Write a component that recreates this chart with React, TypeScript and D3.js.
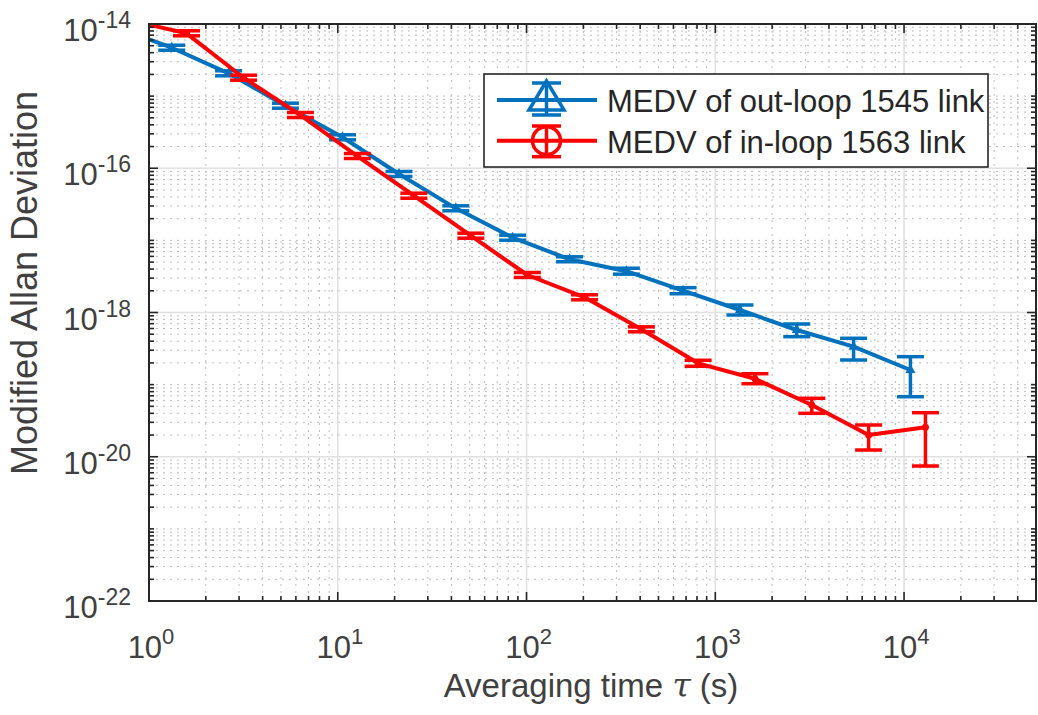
import React from "react";
import * as d3 from "d3";

// ---- data ----
const blueTau = [0.66, 1.32, 2.64, 5.28, 10.6, 21.1, 42.2, 84.4, 169, 338, 675, 1351, 2702, 5403, 10806];
const blueVal = [9.17e-15, 4.69e-15, 2.07e-15, 7.37e-16, 2.69e-16, 8.32e-17, 2.78e-17, 1.089e-17, 5.47e-18, 3.74e-18, 2.005e-18, 1.083e-18, 5.72e-19, 3.36e-19, 1.595e-19];
const blueHi = [9.9e-15, 5.08e-15, 2.245e-15, 7.98e-16, 2.91e-16, 9.02e-17, 3.015e-17, 1.18e-17, 5.92e-18, 4.11e-18, 2.21e-18, 1.27e-18, 6.93e-19, 4.39e-19, 2.44e-19];
const blueLo = [8.5e-15, 4.33e-15, 1.913e-15, 6.8e-16, 2.48e-16, 7.69e-17, 2.57e-17, 1.005e-17, 5.05e-18, 3.4e-18, 1.82e-18, 9.23e-19, 4.62e-19, 2.195e-19, 6.8e-20];

const redTau = [0.79, 1.58, 3.17, 6.34, 12.7, 25.3, 50.7, 101, 203, 406, 811, 1622, 3245, 6490, 12980];
const redVal = [1.12e-14, 7.43e-15, 1.8e-15, 5.47e-16, 1.478e-16, 4.16e-17, 1.161e-17, 3.31e-18, 1.624e-18, 5.85e-19, 1.975e-19, 1.208e-19, 5.22e-20, 2.0e-20, 2.56e-20];
const redHi = [1.2e-14, 8.05e-15, 1.95e-15, 5.93e-16, 1.6e-16, 4.51e-17, 1.258e-17, 3.585e-18, 1.76e-18, 6.33e-19, 2.175e-19, 1.417e-19, 6.46e-20, 2.755e-20, 4.08e-20];
const redLo = [1.04e-14, 6.86e-15, 1.663e-15, 5.05e-16, 1.365e-16, 3.84e-17, 1.072e-17, 3.06e-18, 1.5e-18, 5.4e-19, 1.795e-19, 1.03e-19, 4.0e-20, 1.24e-20, 7.44e-21];

const xMajor = [1, 10, 100, 1000, 10000];
const xExp = ["0", "1", "2", "3", "4"];
const yMajor = [1e-14, 1e-16, 1e-18, 1e-20, 1e-22];
const yExp = ["-14", "-16", "-18", "-20", "-22"];

const legendLabels = ["MEDV of out-loop 1545 link", "MEDV of in-loop 1563 link"];
const BLUE = "#0072BD";
const RED = "#FF0000";

const L = 149, R = 1036, T = 24, B = 601;

export default function App() {
  const x = d3.scaleLog().domain([1, 5e4]).range([L, R]);
  const y = d3.scaleLog().domain([1e-22, 1e-14]).range([B, T]);

  const xMinor: number[] = [];
  for (let n = 0; n <= 4; n++) for (let k = 2; k <= 9; k++) { const v = k * Math.pow(10, n); if (v <= 5e4) xMinor.push(v); }
  const yMinor: number[] = [];
  for (let n = -22; n <= -15; n++) for (let k = 1; k <= 9; k++) {
    if (k === 1 && n % 2 === 0) continue;
    yMinor.push(k * Math.pow(10, n));
  }

  const mkPath = (taus: number[], vals: number[]) =>
    d3.line<number>().x((d, i) => x(taus[i])).y((d) => y(d))(vals) || "";

  const cap = 13.5;
  const series = [
    { tau: blueTau, val: blueVal, hi: blueHi, lo: blueLo, color: BLUE, marker: "tri" },
    { tau: redTau, val: redVal, hi: redHi, lo: redLo, color: RED, marker: "circ" },
  ];
  const font = "'Liberation Sans', Arial, Helvetica, sans-serif";
  const tickColor = "#262626";

  return (
    <svg width={1038} height={715} style={{ position: "absolute", left: 0, top: 0, display: "block", background: "#fff" }}>
      <defs>
        <clipPath id="plotclip"><rect x={L} y={T} width={R - L} height={B - T} /></clipPath>
      </defs>
      <rect x={0} y={0} width={1038} height={715} fill="#fff" />
      {/* minor grid */}
      <g stroke="#bdbdbd" strokeWidth={1} strokeDasharray="2,5">
        {xMinor.map((v, i) => <line key={"gx" + i} x1={x(v)} x2={x(v)} y1={T} y2={B} />)}
        {yMinor.map((v, i) => <line key={"gy" + i} x1={L} x2={R} y1={y(v)} y2={y(v)} />)}
      </g>
      {/* major grid */}
      <g stroke="#e0e0e0" strokeWidth={1.6}>
        {xMajor.map((v, i) => <line key={"Gx" + i} x1={x(v)} x2={x(v)} y1={T} y2={B} />)}
        {yMajor.map((v, i) => <line key={"Gy" + i} x1={L} x2={R} y1={y(v)} y2={y(v)} />)}
      </g>
      {/* series */}
      <g clipPath="url(#plotclip)">
        {series.map((s, si) => (
          <g key={"s" + si} stroke={s.color} fill={s.color}>
            {s.tau.map((t, i) => {
              const cx = x(t);
              return (
                <g key={"e" + i} strokeWidth={3.5}>
                  <line x1={cx} x2={cx} y1={y(s.hi[i])} y2={y(s.lo[i])} />
                  <line x1={cx - cap} x2={cx + cap} y1={y(s.hi[i])} y2={y(s.hi[i])} />
                  <line x1={cx - cap} x2={cx + cap} y1={y(s.lo[i])} y2={y(s.lo[i])} />
                </g>
              );
            })}
            <path d={mkPath(s.tau, s.val)} fill="none" strokeWidth={4} strokeLinejoin="round" />
            {s.tau.map((t, i) => {
              const cx = x(t), cy = y(s.val[i]);
              return s.marker === "tri" ? (
                <path key={"m" + i} d={`M${cx},${cy - 6}L${cx + 5},${cy + 3}L${cx - 5},${cy + 3}Z`} stroke="none" />
              ) : (
                <circle key={"m" + i} cx={cx} cy={cy} r={3.5} stroke="none" />
              );
            })}
          </g>
        ))}
      </g>
      {/* ticks */}
      <g stroke={tickColor} strokeWidth={1.6}>
        {xMajor.map((v, i) => (
          <g key={"tx" + i}>
            <line x1={x(v)} x2={x(v)} y1={B} y2={B - 9} />
            <line x1={x(v)} x2={x(v)} y1={T} y2={T + 9} />
          </g>
        ))}
        {xMinor.map((v, i) => (
          <g key={"tmx" + i}>
            <line x1={x(v)} x2={x(v)} y1={B} y2={B - 5} />
            <line x1={x(v)} x2={x(v)} y1={T} y2={T + 5} />
          </g>
        ))}
        {yMajor.map((v, i) => (
          <g key={"ty" + i}>
            <line x1={L} x2={L + 9} y1={y(v)} y2={y(v)} />
            <line x1={R} x2={R - 9} y1={y(v)} y2={y(v)} />
          </g>
        ))}
        {yMinor.map((v, i) => (
          <g key={"tmy" + i}>
            <line x1={L} x2={L + 5} y1={y(v)} y2={y(v)} />
            <line x1={R} x2={R - 5} y1={y(v)} y2={y(v)} />
          </g>
        ))}
      </g>
      {/* axes box */}
      <rect x={L} y={T} width={R - L} height={B - T} fill="none" stroke={tickColor} strokeWidth={2} />
      {/* tick labels */}
      <g fill="#404040" fontFamily={font}>
        {xMajor.map((v, i) => (
          <text key={"lx" + i} x={x(v) + 2} y={658} fontSize={31} textAnchor="middle">
            10<tspan dy={-14} fontSize={22}>{xExp[i]}</tspan>
          </text>
        ))}
        {yMajor.map((v, i) => (
          <text key={"ly" + i} x={131} y={y(v) + 17} fontSize={31} textAnchor="end">
            10<tspan dy={-13} fontSize={23}>{yExp[i]}</tspan>
          </text>
        ))}
        <text x={591} y={697} fontSize={33} textAnchor="middle">
          Averaging time <tspan fontStyle="italic" fontFamily="'DejaVu Serif', serif">τ</tspan> (s)
        </text>
        <text transform={`translate(37,283) rotate(-90)`} fontSize={36} textAnchor="middle">
          Modified Allan Deviation
        </text>
      </g>
      {/* legend */}
      <g>
        <rect x={484} y={74} width={504} height={93} fill="#fff" stroke="#262626" strokeWidth={1.6} />
        <g stroke={BLUE} strokeWidth={4} fill="none">
          <line x1={497} x2={597} y1={100} y2={100} />
          <line x1={546.5} x2={546.5} y1={83} y2={115} strokeWidth={3.5} />
          <line x1={532} x2={561} y1={83} y2={83} strokeWidth={3.5} />
          <line x1={532} x2={561} y1={115} y2={115} strokeWidth={3.5} />
          <path d="M546.5,81L564,110L529,110Z" strokeWidth={3.5} strokeLinejoin="miter" />
        </g>
        <g stroke={RED} strokeWidth={4} fill="none">
          <line x1={497} x2={597} y1={140.7} y2={140.7} />
          <line x1={546.5} x2={546.5} y1={126} y2={156.7} strokeWidth={3.5} />
          <line x1={532} x2={561} y1={126} y2={126} strokeWidth={3.5} />
          <line x1={532} x2={561} y1={156.7} y2={156.7} strokeWidth={3.5} />
          <circle cx={546.5} cy={140.7} r={14} strokeWidth={3.5} />
        </g>
        <g fill="#262626" fontFamily={font} fontSize={31}>
          <text x={607} y={112}>{legendLabels[0]}</text>
          <text x={607} y={152.5}>{legendLabels[1]}</text>
        </g>
      </g>
    </svg>
  );
}
